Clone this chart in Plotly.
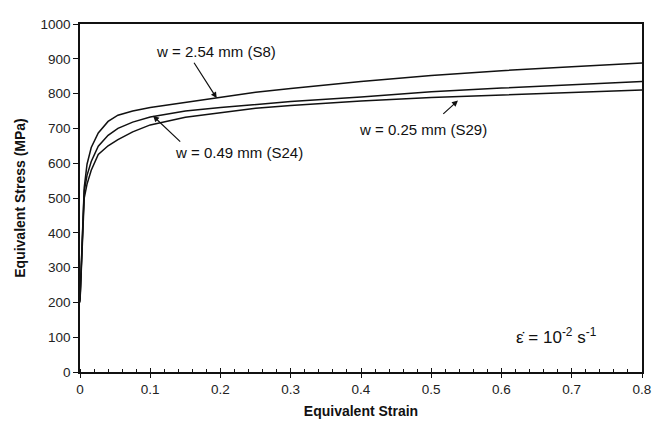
import plotly.graph_objects as go

strain = [0, 0.002, 0.004, 0.006, 0.01, 0.016, 0.026, 0.04, 0.054, 0.075,
          0.1, 0.15, 0.2, 0.25, 0.3, 0.4, 0.5, 0.6, 0.7, 0.8]
stress_s8 = [210, 320, 470, 530, 597, 645, 687, 720, 738, 750,
             760, 775, 790, 804, 815, 835, 852, 866, 877, 888]
stress_s24 = [205, 310, 460, 520, 565, 605, 649, 680, 700, 718,
              733, 750, 760, 768, 777, 790, 805, 816, 826, 835]
stress_s29 = [200, 300, 450, 500, 540, 580, 625, 650, 668, 690,
              710, 732, 745, 758, 766, 779, 789, 797, 803, 810]

x_ticks = [0, 0.1, 0.2, 0.3, 0.4, 0.5, 0.6, 0.7, 0.8]
x_tick_labels = ["0", "0.1", "0.2", "0.3", "0.4", "0.5", "0.6", "0.7", "0.8"]
y_ticks = [0, 100, 200, 300, 400, 500, 600, 700, 800, 900, 1000]

FONT = "Arial, Liberation Sans, sans-serif"

fig = go.Figure()
for ys, name in [(stress_s8, "S8"), (stress_s24, "S24"), (stress_s29, "S29")]:
    fig.add_trace(go.Scatter(x=strain, y=ys, mode="lines", name=name,
                             line=dict(color="#111111", width=1.5),
                             showlegend=False, cliponaxis=False))

# invisible trace on overlay axis for inward major ticks
fig.add_trace(go.Scatter(x=[0, 0.8], y=[0, 0], xaxis="x2", mode="lines",
                         line=dict(width=0), showlegend=False, hoverinfo="skip"))

fig.update_layout(
    width=653, height=419,
    margin=dict(l=72, r=19, t=9, b=55),
    paper_bgcolor="white", plot_bgcolor="white",
    font=dict(family=FONT, size=13.5, color="#222222"),
    xaxis=dict(range=[0, 0.8], tickvals=x_ticks, ticktext=x_tick_labels,
               showgrid=False, zeroline=False,
               showline=True, linecolor="#111111", linewidth=1.5, mirror=True,
               ticks="outside", ticklen=4, tickwidth=1.2, tickcolor="#111111",
               minor=dict(ticks="inside", ticklen=3, dtick=0.02, tick0=0,
                          tickcolor="#111111", tickwidth=1, showgrid=False),
               title=dict(text="<b>Equivalent Strain</b>", font=dict(size=14, color="#111111"),
                          standoff=10),
               tickfont=dict(size=13.5, color="#222222")),
    xaxis2=dict(range=[0, 0.8], overlaying="x", matches="x", side="bottom",
                tickvals=x_ticks, showticklabels=False, ticks="inside", ticklen=4,
                tickwidth=1.2, tickcolor="#111111", showgrid=False, zeroline=False,
                showline=False),
    yaxis=dict(range=[0, 1000], tickvals=y_ticks,
               showgrid=False, zeroline=False,
               showline=True, linecolor="#111111", linewidth=1.5, mirror=True,
               ticks="outside", ticklen=5, tickwidth=1.2, tickcolor="#111111",
               title=dict(text="<b>Equivalent Stress (MPa)</b>", font=dict(size=14, color="#111111"),
                          standoff=12),
               tickfont=dict(size=13.5, color="#222222")),
)

ann_font = dict(family=FONT, size=15, color="#111111")
# labels with arrows (arrow heads point to curves)
fig.add_annotation(x=0.1946, y=787, ax=0.161, ay=893, xref="x", yref="y",
                   axref="x", ayref="y", showarrow=True, arrowhead=2, arrowsize=1,
                   arrowwidth=1.2, arrowcolor="#111111", text="")
fig.add_annotation(x=0.194, y=921, text="w = 2.54 mm (S8)", showarrow=False, font=ann_font)

fig.add_annotation(x=0.104, y=736, ax=0.1448, ay=658, xref="x", yref="y",
                   axref="x", ayref="y", showarrow=True, arrowhead=2, arrowsize=1,
                   arrowwidth=1.2, arrowcolor="#111111", text="")
fig.add_annotation(x=0.226, y=631, text="w = 0.49 mm (S24)", showarrow=False, font=ann_font)

fig.add_annotation(x=0.538, y=780, ax=0.515, ay=738, xref="x", yref="y",
                   axref="x", ayref="y", showarrow=True, arrowhead=2, arrowsize=1,
                   arrowwidth=1.2, arrowcolor="#111111", text="")
fig.add_annotation(x=0.488, y=696, text="w = 0.25 mm (S29)", showarrow=False, font=ann_font)

fig.add_annotation(x=0.678, y=104, text="\u03b5\u0307 = 10<sup>-2</sup> s<sup>-1</sup>",
                   showarrow=False, font=dict(family=FONT, size=17, color="#111111"))

fig.write_html("out.html")
